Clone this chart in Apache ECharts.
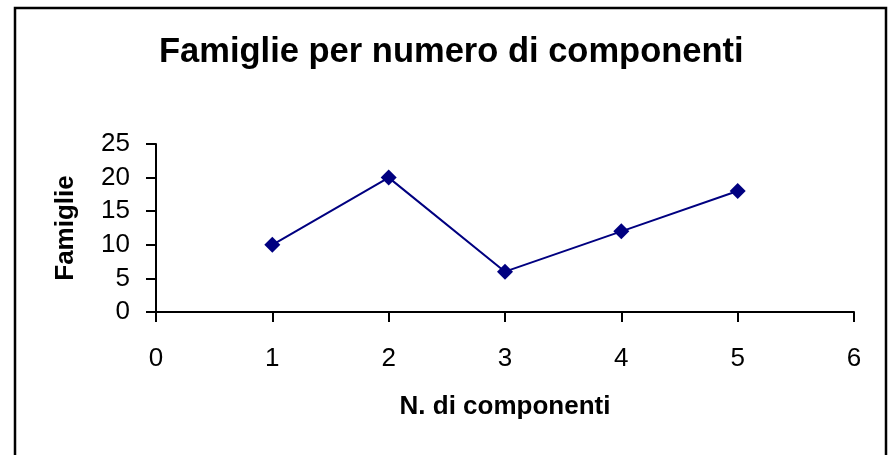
<!DOCTYPE html>
<html>
<head>
<meta charset="utf-8">
<style>
  html, body { margin: 0; padding: 0; background: #ffffff; }
  #chart { width: 888px; height: 455px; }
</style>
<script src="https://cdn.jsdelivr.net/npm/echarts@6/dist/echarts.min.js"></script>
</head>
<body>
<div id="chart"></div>
<script>
// Number of household members and how many families have that size
const componenti = [1, 2, 3, 4, 5];
const famiglie = [10, 20, 6, 12, 18];

const titleText = 'Famiglie per numero di componenti';
const xName = 'N. di componenti';
const yName = 'Famiglie';

const seriesData = componenti.map((c, i) => [c, famiglie[i]]);

const chart = echarts.init(document.getElementById('chart'), null, { renderer: 'canvas' });

const axisLine = { show: true, lineStyle: { color: '#000000', width: 2 } };
const axisTick = { show: true, inside: false, length: 10, lineStyle: { color: '#000000', width: 2 } };
const labelFont = { fontFamily: 'Liberation Sans, Arial, sans-serif', fontSize: 26, color: '#000000' };
const nameFont = { fontFamily: 'Liberation Sans, Arial, sans-serif', fontSize: 26, fontWeight: 'bold', color: '#000000' };

chart.setOption({
  animation: false,
  backgroundColor: '#ffffff',
  title: {
    text: titleText,
    left: 154,
    top: 30,
    textStyle: {
      fontFamily: 'Liberation Sans, Arial, sans-serif',
      fontSize: 34.5,
      fontWeight: 'bold',
      color: '#000000'
    }
  },
  graphic: [{
    type: 'rect',
    shape: { x: 15, y: 8, width: 871, height: 470 },
    style: { fill: 'none', stroke: '#000000', lineWidth: 2.5 },
    silent: true
  }],
  grid: { left: 156, right: 34, top: 144, bottom: 143 },
  xAxis: {
    type: 'value',
    min: 0,
    max: 6,
    interval: 1,
    name: xName,
    nameLocation: 'middle',
    nameGap: 82,
    nameTextStyle: nameFont,
    axisLine: axisLine,
    axisTick: axisTick,
    splitLine: { show: false },
    axisLabel: Object.assign({ margin: 34 }, labelFont)
  },
  yAxis: {
    type: 'value',
    min: 0,
    max: 25,
    interval: 5,
    name: yName,
    nameLocation: 'middle',
    nameRotate: 90,
    nameGap: 77,
    nameTextStyle: nameFont,
    axisLine: axisLine,
    axisTick: axisTick,
    splitLine: { show: false },
    axisLabel: Object.assign({ margin: 26 }, labelFont)
  },
  series: [{
    type: 'line',
    data: seriesData,
    symbol: 'diamond',
    symbolSize: 16,
    lineStyle: { color: '#000080', width: 2 },
    itemStyle: { color: '#000080' }
  }]
});
</script>
</body>
</html>
